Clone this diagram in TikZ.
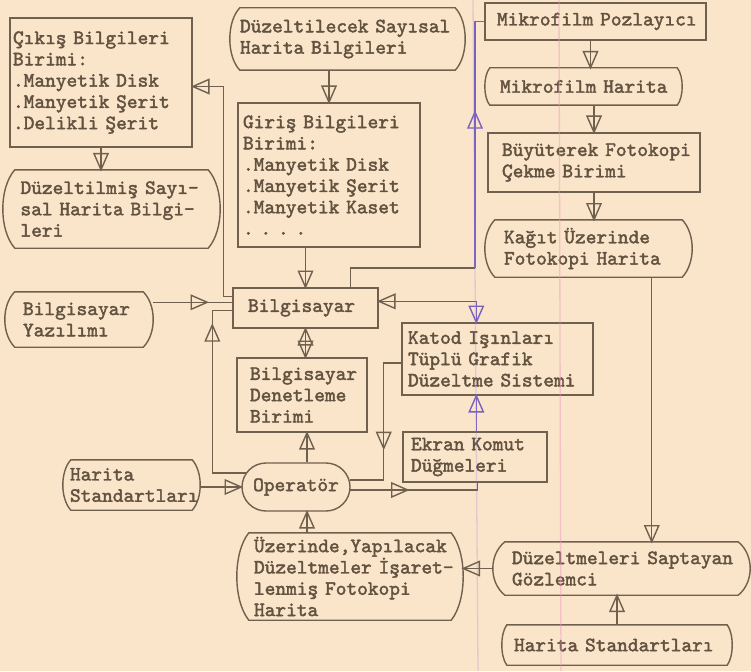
\documentclass[tikz,border=0pt]{standalone}
\usepackage{fontspec}
\newfontfamily\twf{lmmono10-regular}[Extension=.otf, FakeBold=2]
\usetikzlibrary{calc,decorations.markings}
\definecolor{paper}{RGB}{250,228,202}
\definecolor{ink}{RGB}{112,96,78}
\definecolor{txt}{RGB}{98,82,64}
\definecolor{vink}{RGB}{120,98,190}
\definecolor{rulev}{RGB}{150,120,225}
\definecolor{rulep}{RGB}{240,150,195}
\newcommand{\fz}{\fontsize{20.4}{21.3}\selectfont\twf\hyphenchar\font=-1\relax}
\tikzset{
  inkline/.style={draw=ink, line width=1.4pt},
  conn/.style={draw, color=ink, line width=1.4pt},
  nd/.style={inner xsep=0pt, inner ysep=0pt, align=left, font=\fz, text=txt,
    execute at begin node={\hyphenpenalty=10000\exhyphenpenalty=10000\hfuzz=80pt\hbadness=10000\relax}},
  rbox/.style={nd, inkline},
  tri/.style={postaction={decorate, decoration={markings, mark=at position #1 with {\draw[line width=1.4pt] (0pt,0pt) -- (-16pt,7pt) -- (-16pt,-7pt) -- cycle;}}}},
  trirev/.style={postaction={decorate, decoration={markings, mark=at position #1 with {\draw[line width=1.4pt] (0pt,0pt) -- (16pt,7pt) -- (16pt,-7pt) -- cycle;}}}},
}
\newcommand{\curvedshape}[3]{%
  \draw[inkline] ([xshift=#2]#1.north west) -- ([xshift=-#2]#1.north east)
    .. controls ([xshift=#2/3,yshift=-#3]#1.north east) and ([xshift=#2/3,yshift=#3]#1.south east) .. ([xshift=-#2]#1.south east)
    -- ([xshift=#2]#1.south west)
    .. controls ([xshift=-#2/3,yshift=#3]#1.south west) and ([xshift=-#2/3,yshift=-#3]#1.north west) .. ([xshift=#2]#1.north west) -- cycle;}
\begin{document}
\begin{tikzpicture}[x=1pt,y=-1pt]
\fill[paper] (0,0) rectangle (751,671);
\useasboundingbox (0,0) rectangle (751,671);

% nodes
\node[rbox, minimum width=182pt, minimum height=129pt, text width=176pt] (cikis) at (101,82.5)
  {Çıkış~Bilgileri\\Birimi:\\.Manyetik~Disk\\.Manyetik~Şerit\\.Delikli~Şerit};
\node[nd, minimum width=217pt, minimum height=78pt, text width=182pt] (duzmis) at (111.5,209)
  {Düzeltilmiş~Sayı-\\sal~Harita~Bilgi-\\leri};
\node[nd, minimum width=235pt, minimum height=62pt, text width=215pt] (duzcek) at (347.5,39)
  {Düzeltilecek~Sayısal\\Harita~Bilgileri};
\node[rbox, minimum width=182pt, minimum height=144pt, text width=172pt] (giris) at (329,175)
  {Giriş~Bilgileri\\Birimi:\\.Manyetik~Disk\\.Manyetik~Şerit\\.Manyetik~Kaset\\.~.~.~.};
\node[rbox, minimum width=221pt, minimum height=37pt, text width=197pt] (mpoz) at (595.5,21.5)
  {Mikrofilm~Pozlayıcı};
\node[nd, minimum width=197pt, minimum height=37pt, text width=167pt] (mhar) at (583.5,86.5)
  {Mikrofilm~Harita};
\node[rbox, minimum width=212pt, minimum height=59pt, text width=184pt] (buyut) at (594,162.5)
  {Büyüterek~Fotokopi\\Çekme~Birimi};
\node[nd, minimum width=207pt, minimum height=57pt, text width=169pt] (kagit) at (588.5,248.5)
  {Kağıt~Üzerinde\\Fotokopi~Harita};
\node[nd, minimum width=148pt, minimum height=55pt, text width=112pt] (yazil) at (79,319.5)
  {Bilgisayar\\Yazılımı};
\node[rbox, minimum width=145pt, minimum height=40pt, text width=115pt] (bilg) at (305.5,308)
  {Bilgisayar};
\node[rbox, minimum width=130pt, minimum height=74pt, text width=104pt] (denet) at (302,395)
  {Bilgisayar\\Denetleme\\Birimi};
\node[rbox, minimum width=191pt, minimum height=72pt, text width=179pt] (katod) at (497.5,359)
  {Katod~Işınları\\Tüplü~Grafik\\Düzeltme~Sistemi};
\node[rbox, minimum width=144pt, minimum height=50pt, text width=128pt] (ekran) at (475,457)
  {Ekran~Komut\\Düğmeleri};
\node[nd, draw=ink, line width=1.4pt, rounded corners=24pt, minimum width=108pt, minimum height=48pt, align=center] (oper) at (296,487)
  {Operatör};
\node[nd, minimum width=137pt, minimum height=50pt, text width=123pt] (hstd1) at (131.5,485)
  {Harita\\Standartları};
\node[nd, minimum width=226pt, minimum height=87pt, text width=192pt] (uzer) at (350,576.5)
  {Üzerinde,Yapılacak\\Düzeltmeler~İşaret-\\lenmiş~Fotokopi\\Harita};
\node[nd, minimum width=257pt, minimum height=53pt, text width=219pt] (sapt) at (621.5,568.5)
  {Düzeltmeleri~Saptayan\\Gözlemci};
\node[nd, minimum width=230pt, minimum height=40pt, text width=206pt] (hstd2) at (617,645)
  {Harita~Standartları};

% curved-sided outlines
\curvedshape{duzmis}{12pt}{18pt}
\curvedshape{duzcek}{10pt}{14pt}
\curvedshape{mhar}{5pt}{8pt}
\curvedshape{kagit}{10pt}{14pt}
\curvedshape{yazil}{10pt}{13pt}
\curvedshape{hstd1}{8pt}{12pt}
\curvedshape{uzer}{12pt}{20pt}
\curvedshape{sapt}{12pt}{13pt}
\curvedshape{hstd2}{5pt}{9pt}

% helper coordinates
\coordinate (ks) at ($(kagit.south west)!0.805!(kagit.south east)$);
\coordinate (ox) at ([xshift=11pt]oper.south);
\coordinate (oxn) at ([xshift=11pt]oper.north);
\coordinate (bc) at ($(bilg.north west)+(0,9)$);
\coordinate (by) at ($(bilg.north west)+(0,15)$);
\coordinate (bo) at ($(bilg.north west)+(0,23)$);
\coordinate (os) at ($(oper.west)+(5,-14)$);
\coordinate (bt) at ($(bilg.north east)+(-28,0)$);
\coordinate (rp) at (475,268);
\coordinate (kt) at ($(katod.north west)+(75,0)$);
\coordinate (bk) at ($(bilg.north east)+(0,14)$);
\coordinate (kb) at ($(katod.south west)+(75,0)$);
\coordinate (kw) at ([yshift=-4pt]katod.west);
\coordinate (oe1) at ($(oper.east)+(-1,-7)$);
\coordinate (oe2) at ($(oper.east)+(-1,3)$);
\coordinate (eb) at ($(ekran.south west)+(75,0)$);

% connectors
\draw[conn, tri=-0.1pt] (cikis.south) -- (cikis.south |- duzmis.north);
\draw[conn, tri=-0.1pt] (giris.north |- duzcek.south) -- (giris.north);
\draw[conn, tri=-0.1pt] ([xshift=-5pt]mpoz.south) -- ([xshift=-5pt]mpoz.south |- mhar.north);
\draw[conn, tri=-0.1pt] (buyut.north |- mhar.south) -- (buyut.north);
\draw[conn, tri=-0.1pt] (buyut.south) -- (buyut.south |- kagit.north);
\draw[conn, tri=-0.1pt] (ks) -- (ks |- sapt.north);
\draw[conn, tri=-0.1pt] (hstd2.north) -- (hstd2.north |- sapt.south);
\draw[conn, tri=-0.1pt] (sapt.west) -- (sapt.west -| uzer.east);
\draw[conn, tri=-0.1pt] (ox |- uzer.north) -- (ox);
\draw[conn, tri=-0.1pt] (oxn) -- (oxn |- denet.south);
\draw[conn, tri=-0.1pt] (hstd1.east |- oper.west) -- (oper.west);
\draw[conn, tri=-0.1pt, trirev=0.1pt] (bilg.south) -- (bilg.south |- denet.north);
\draw[conn, tri=-0.1pt] (bilg.north |- giris.south) -- (bilg.north);
\draw[conn, tri=-0.1pt] (bc) -- ++(-9,0) |- ([yshift=-4pt]cikis.east);
\draw[conn, tri=54pt] (by -| yazil.east) -- (by);
\draw[conn, tri=182pt] (os) -| ($(bo)+(-20,0)$) -- (bo);
\draw[conn] (bt) |- (rp);
\draw[conn, color=vink, tri=156pt] (rp) |- (mpoz.west);
\draw[conn, tri=-0.1pt] (kt |- bk) -- (bk);
\draw[conn, color=vink, tri=-0.1pt] (kt |- bk) -- (kt);
\draw[conn, color=vink, tri=-0.1pt] (kb |- ekran.north) -- (kb);
\draw[conn, tri=103pt] (kw) -| ($(oe1)+(34,0)$) -- (oe1);
\draw[conn, tri=58pt] (oe2) -| (eb);

% paper ruling lines
\coordinate (rv1) at (473,0);
\coordinate (rv2) at (478,671);
\coordinate (rq1) at (559,0);
\coordinate (rq2) at (561,671);
\draw[rulev, opacity=0.25, line width=1.3pt] (rv1) -- (rv2);
\draw[rulep, opacity=0.45, line width=1.3pt] (rq1) -- (rq2);
\end{tikzpicture}
\end{document}
